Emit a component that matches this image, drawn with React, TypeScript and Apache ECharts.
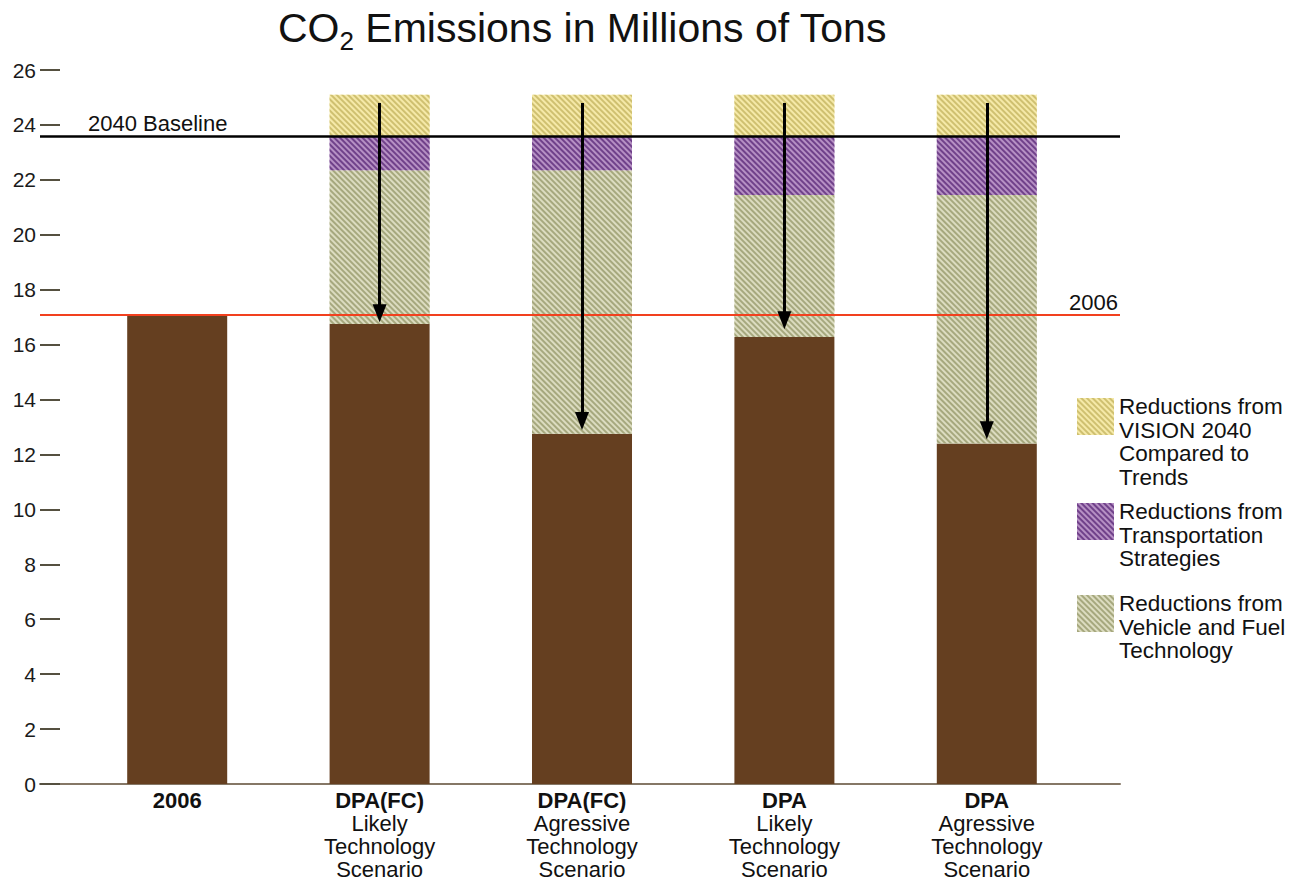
import React, { useEffect, useRef } from 'react';
import * as echarts from 'echarts';

const FONT = '"Liberation Sans", Arial, Helvetica, sans-serif';

// Categories (bold head + plain sub lines)
const categories = ['2006', 'DPA(FC) Likely', 'DPA(FC) Agressive', 'DPA Likely', 'DPA Agressive'];
const catHeads = ['2006', 'DPA(FC)', 'DPA(FC)', 'DPA', 'DPA'];
const catSubs = [
  [],
  ['Likely', 'Technology', 'Scenario'],
  ['Agressive', 'Technology', 'Scenario'],
  ['Likely', 'Technology', 'Scenario'],
  ['Agressive', 'Technology', 'Scenario'],
];

// Stacked segment values (millions of tons)
const remaining = [17.1, 16.75, 12.75, 16.28, 12.4];
const vehicleFuel = [0, 5.6, 9.6, 5.17, 9.05];
const transport = [0, 1.25, 1.25, 2.15, 2.15];
const vision = [0, 1.5, 1.5, 1.5, 1.5];

// Reference levels
const baseline2040 = 23.6;
const level2006 = 17.1;

// Arrows (from / arrow-head centre, per category index)
const arrowFrom = [null, 24.8, 24.8, 24.8, 24.8];
const arrowTo = [null, 17.14, 13.22, 16.89, 12.88];

// Y ticks
const yMin = 0;
const yMax = 26;
const yInterval = 2;

const seriesNames = {
  remaining: 'Remaining Emissions',
  vision: 'Reductions from VISION 2040 Compared to Trends',
  transport: 'Reductions from Transportation Strategies',
  vehicle: 'Reductions from Vehicle and Fuel Technology',
};
const legendLines: Record<string, string[]> = {
  [seriesNames.vision]: ['Reductions from', 'VISION 2040', 'Compared to', 'Trends'],
  [seriesNames.transport]: ['Reductions from', 'Transportation', 'Strategies'],
  [seriesNames.vehicle]: ['Reductions from', 'Vehicle and Fuel', 'Technology'],
};

function hatch(color: string) {
  return {
    symbol: 'rect',
    symbolSize: 1,
    color,
    dashArrayX: [1, 0],
    dashArrayY: [1.1, 2],
    rotation: Math.PI / 4,
  };
}

const hatchYellow = { base: '#f5e9a8', line: '#cfc070' };
const hatchPurple = { base: '#b690c4', line: '#70418a' };
const hatchGreen = { base: '#dcdcc0', line: '#a6a87e' };

const LEGEND_FS = 22.5;
const LEGEND_LH = 23.5;

function legendFor(name: string, top: number, spacer: number) {
  return {
    data: [name],
    left: 1077,
    top,
    orient: 'vertical',
    padding: 0,
    icon: 'rect',
    itemWidth: 37,
    itemHeight: 37,
    selectedMode: false,
    formatter: (n: string) =>
      ['{sp| }', ...(legendLines[n] || [n]).map((l) => '{t|' + l + '}')].join('\n'),
    textStyle: {
      fontSize: LEGEND_FS,
      color: '#111',
      fontFamily: FONT,
      rich: {
        sp: { fontSize: 1, lineHeight: spacer, height: spacer },
        t: { fontSize: LEGEND_FS, lineHeight: LEGEND_LH, color: '#111', fontFamily: FONT },
      },
    },
  };
}

export default function App() {
  const ref = useRef<HTMLDivElement>(null);

  useEffect(() => {
    document.body.style.margin = '0';
    const chart = echarts.init(ref.current!, null, { renderer: 'svg' });

    const arrowData = arrowFrom
      .map((from, i) =>
        from == null || arrowTo[i] == null
          ? null
          : [{ coord: [i, from] }, { coord: [i, arrowTo[i]] }]
      )
      .filter(Boolean);

    const option: any = {
      animation: false,
      backgroundColor: '#fff',
      textStyle: { fontFamily: FONT },
      title: {
        text: '{a|CO}{s|2}{a| Emissions in Millions of Tons}',
        left: 278,
        top: 2,
        padding: 0,
        textStyle: {
          fontWeight: 'normal',
          rich: {
            a: { fontSize: 41, fontWeight: 'normal', color: '#111', fontFamily: FONT },
            s: { fontSize: 26, fontWeight: 'normal', color: '#111', fontFamily: FONT, padding: [26, 0, 0, 0] },
          },
        },
      },
      legend: [
        legendFor(seriesNames.vision, 344, 51),
        legendFor(seriesNames.transport, 472.5, 27.5),
        legendFor(seriesNames.vehicle, 564.5, 27.5),
      ],
      grid: [
        { left: 40, right: 171, top: 70, bottom: 98, outerBoundsMode: 'none', containLabel: false },
        { left: 76, right: 203, top: 70, bottom: 98, outerBoundsMode: 'none', containLabel: false },
      ],
      xAxis: [
        {
          gridIndex: 0,
          type: 'value',
          min: 0,
          max: 1,
          axisLine: { show: true, lineStyle: { color: '#857766', width: 2 } },
          axisTick: { show: false },
          axisLabel: { show: false },
          splitLine: { show: false },
        },
        {
          gridIndex: 1,
          type: 'category',
          data: categories,
          axisLine: { show: false },
          axisTick: { show: false },
          splitLine: { show: false },
          axisLabel: {
            interval: 0,
            margin: 5,
            formatter: (_v: string, i: number) =>
              ['{b|' + catHeads[i] + '}', ...catSubs[i].map((s) => '{n|' + s + '}')].join('\n'),
            rich: {
              b: { fontSize: 22, fontWeight: 'bold', lineHeight: 23, color: '#111', fontFamily: FONT },
              n: { fontSize: 22, lineHeight: 23, color: '#111', fontFamily: FONT },
            },
          },
        },
      ],
      yAxis: [
        {
          gridIndex: 0,
          type: 'value',
          min: yMin,
          max: yMax,
          interval: yInterval,
          axisLine: { show: false },
          axisTick: { show: true, inside: true, length: 20, lineStyle: { color: '#555040', width: 2 } },
          axisLabel: { margin: 4, fontSize: 21, color: '#1a1a1a', fontFamily: FONT },
          splitLine: { show: false },
        },
        {
          gridIndex: 1,
          type: 'value',
          min: yMin,
          max: yMax,
          interval: yInterval,
          show: false,
          splitLine: { show: false },
        },
      ],
      series: [
        {
          name: seriesNames.remaining,
          type: 'bar',
          xAxisIndex: 1,
          yAxisIndex: 1,
          stack: 'total',
          barWidth: 100,
          data: remaining,
          itemStyle: { color: '#653f20' },
        },
        {
          name: seriesNames.vehicle,
          type: 'bar',
          xAxisIndex: 1,
          yAxisIndex: 1,
          stack: 'total',
          barWidth: 100,
          data: vehicleFuel,
          itemStyle: { color: hatchGreen.base, decal: hatch(hatchGreen.line) },
        },
        {
          name: seriesNames.transport,
          type: 'bar',
          xAxisIndex: 1,
          yAxisIndex: 1,
          stack: 'total',
          barWidth: 100,
          data: transport,
          itemStyle: { color: hatchPurple.base, decal: hatch(hatchPurple.line) },
        },
        {
          name: seriesNames.vision,
          type: 'bar',
          xAxisIndex: 1,
          yAxisIndex: 1,
          stack: 'total',
          barWidth: 100,
          data: vision,
          itemStyle: { color: hatchYellow.base, decal: hatch(hatchYellow.line) },
        },
        {
          name: 'reference',
          type: 'line',
          xAxisIndex: 0,
          yAxisIndex: 0,
          data: [],
          z: 5,
          markLine: {
            silent: true,
            symbol: 'none',
            data: [
              {
                yAxis: baseline2040,
                lineStyle: { color: '#000', width: 2.5, type: 'solid' },
                label: {
                  show: true,
                  position: 'insideStartTop',
                  formatter: '2040 Baseline',
                  distance: [48, 1],
                  fontSize: 22,
                  color: '#111',
                  fontFamily: FONT,
                },
              },
              {
                yAxis: level2006,
                lineStyle: { color: '#f2401e', width: 2, type: 'solid' },
                label: {
                  show: true,
                  position: 'insideEndTop',
                  formatter: '2006',
                  distance: [2, 1],
                  fontSize: 22,
                  color: '#111',
                  fontFamily: FONT,
                },
              },
            ],
          },
        },
        {
          name: 'arrows',
          type: 'line',
          xAxisIndex: 1,
          yAxisIndex: 1,
          data: [],
          z: 6,
          markLine: {
            silent: true,
            symbol: ['none', 'triangle'],
            symbolSize: [14, 18],
            lineStyle: { color: '#000', width: 3, type: 'solid' },
            label: { show: false },
            data: arrowData,
          },
        },
      ],
    };

    chart.setOption(option);
    return () => chart.dispose();
  }, []);

  return <div ref={ref} style={{ width: 1291, height: 882 }} />;
}
